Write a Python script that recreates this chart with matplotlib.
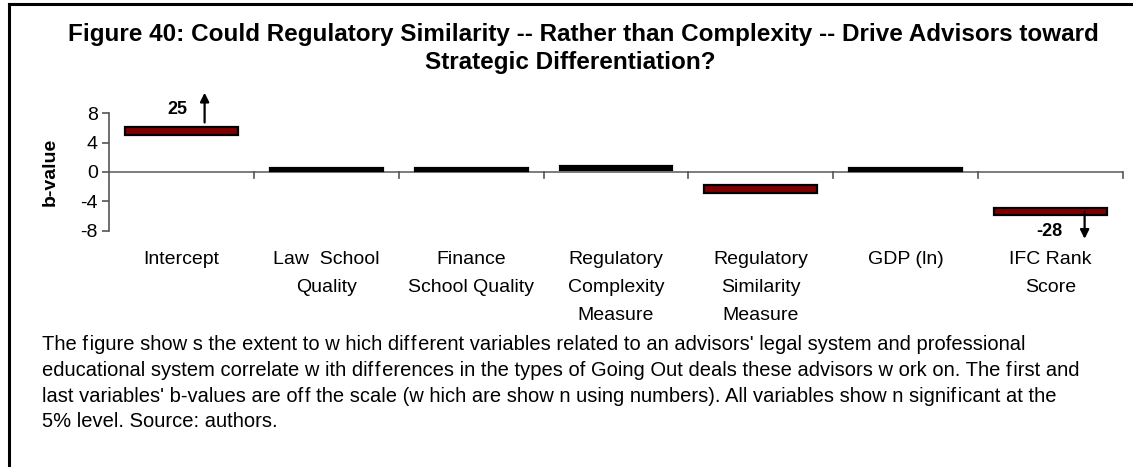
import matplotlib
matplotlib.use("Agg")
import matplotlib.pyplot as plt
from matplotlib.lines import Line2D
from matplotlib.transforms import blended_transform_factory

# ---- data ----
categories = ["Intercept", "Law  School\nQuality", "Finance\nSchool Quality",
              "Regulatory\nComplexity\nMeasure", "Regulatory\nSimilarity\nMeasure",
              "GDP (ln)", "IFC Rank\nScore"]
bar_low = [5.0, 0.08, 0.08, 0.33, -2.86, 0.08, -5.92]
bar_high = [6.08, 0.53, 0.53, 0.86, -1.73, 0.53, -4.87]
bar_colors = ["#800000", "#000000", "#000000", "#000000", "#800000", "#000000", "#800000"]
yticks = [-8, -4, 0, 4, 8]
offscale_labels = ["25", "-28"]
offscale_index = [0, 6]

W, H = 1133, 467
fig = plt.figure(figsize=(W / 100, H / 100), dpi=100)
plt.rcParams['font.family'] = ['Liberation Sans', 'DejaVu Sans']

def fy(py):
    return 1 - py / H

def fx(px):
    return px / W

# frame lines (top and left)
fig.add_artist(Line2D([fx(9), 1], [fy(4), fy(4)], color="black", lw=2.2, transform=fig.transFigure))
fig.add_artist(Line2D([fx(9), fx(9)], [fy(4), 0], color="black", lw=2.2, transform=fig.transFigure))

# title
fig.text(fx(583), fy(34.5), "Figure 40: Could Regulatory Similarity -- Rather than Complexity -- Drive Advisors toward",
         ha="center", va="center", fontsize=17.5, fontweight="bold")
fig.text(fx(570), fy(62), "Strategic Differentiation?",
         ha="center", va="center", fontsize=17.5, fontweight="bold")

ax_left, ax_right = 109, 1123
ax_top, ax_bot = 113.3, 230.7
ax = fig.add_axes([fx(ax_left), fy(ax_bot), fx(ax_right - ax_left), (ax_bot - ax_top) / H])
ax.set_xlim(0, len(categories))
ax.set_ylim(-8, 8)
ax.patch.set_alpha(0)

xs = [i + 0.5 for i in range(len(categories))]
heights = [h - l for l, h in zip(bar_low, bar_high)]
ax.bar(xs, heights, bottom=bar_low, width=0.78, color=bar_colors, edgecolor="black",
       linewidth=1.6, zorder=3)

# axes styling
for s in ["top", "right", "bottom"]:
    ax.spines[s].set_visible(False)
ax.spines["left"].set_color("#555555")
ax.spines["left"].set_linewidth(1.2)
ax.set_yticks(yticks)
ax.set_yticklabels([str(t) for t in yticks], fontsize=14)
ax.tick_params(axis="y", direction="out", length=5, width=1.2, color="#555555", pad=3)
ax.set_xticks([])
ax.axhline(0, color="#666666", lw=1.2, zorder=2)
for b in range(1, len(categories) + 1):
    ax.plot([b, b], [0, -0.75], color="#555555", lw=1.2, clip_on=False, zorder=2)

# category labels
tr = blended_transform_factory(ax.transData, fig.transFigure)
for x, lab in zip(xs, categories):
    for j, line in enumerate(lab.split("\n")):
        ax.text(x, fy(260 + 27.5 * j), line, transform=tr, ha="center", va="center", fontsize=14)

# y label
fig.text(fx(50), fy(172), "b-value", rotation=90, ha="center", va="center",
         fontsize=14, fontweight="bold")

# off-scale annotations
i0 = offscale_index[0]
ax.text(xs[i0] - 0.03, 8.5, offscale_labels[0], ha="center", va="center", fontsize=13,
        fontweight="bold", clip_on=False)
ax.annotate("", xy=(xs[i0] + 0.16, 10.8), xytext=(xs[i0] + 0.16, 6.75),
            arrowprops=dict(arrowstyle="-|>", color="black", lw=1.6, mutation_scale=13,
                            shrinkA=0, shrinkB=0), annotation_clip=False)
i1 = offscale_index[1]
ax.text(xs[i1] - 0.01, -8.1, offscale_labels[1], ha="center", va="center", fontsize=13,
        fontweight="bold", clip_on=False)
ax.annotate("", xy=(xs[i1] + 0.235, -9.1), xytext=(xs[i1] + 0.235, -5.4),
            arrowprops=dict(arrowstyle="-|>", color="black", lw=1.6, mutation_scale=13,
                            shrinkA=0, shrinkB=0), annotation_clip=False, zorder=4)

# caption (hair spaces mimic the small gaps after "f" in the original rendering)
hs = "\u200a"
caption = [
    f"The f{hs}igure show s the extent to w hich dif{hs}f{hs}erent variables related to an advisors' legal system and professional",
    f"educational system correlate w ith dif{hs}f{hs}erences in the types of Going Out deals these advisors w ork on. The f{hs}irst and",
    f"last variables' b-values are of{hs}f the scale (w hich are show n using numbers). All variables show n signif{hs}icant at the",
    "5% level. Source: authors.",
]
for k, line in enumerate(caption):
    fig.text(fx(42), fy(345 + 25.5 * k), line, ha="left", va="center", fontsize=14.5)

fig.savefig("out.png", dpi=100)
